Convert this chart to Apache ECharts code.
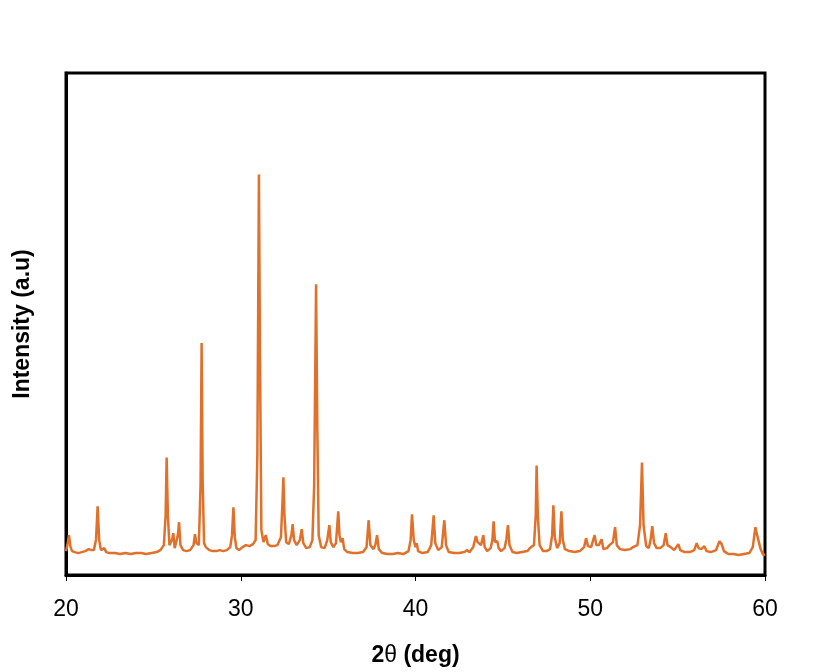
<!DOCTYPE html>
<html>
<head>
<meta charset="utf-8">
<script src="https://cdn.jsdelivr.net/npm/echarts@6/dist/echarts.min.js"></script>
<style>
  html, body { margin: 0; padding: 0; background: #fff; }
  #chart { width: 830px; height: 672px; }
</style>
</head>
<body>
<div id="chart"></div>
<script>
// 2theta positions (deg) and intensities (a.u.)
var twoTheta = [
  20.00, 20.08, 20.17, 20.26, 20.35, 20.5, 20.7, 20.9, 21.1, 21.3, 21.37, 21.45, 21.6, 21.72, 21.81, 21.9,
  22.0, 22.19, 22.3, 22.5, 22.8, 23.1, 23.4, 23.7, 24.0, 24.3, 24.6, 24.9, 25.2, 25.4, 25.6, 25.7,
  25.76, 25.83, 25.92, 26.0, 26.08, 26.14, 26.22, 26.3, 26.4, 26.47, 26.55, 26.7, 26.9, 27.1, 27.3, 27.38,
  27.46, 27.6, 27.7, 27.76, 27.82, 27.9, 28.0, 28.2, 28.4, 28.6, 28.8, 29.0, 29.2, 29.4, 29.5, 29.58,
  29.66, 29.75, 29.9, 30.1, 30.3, 30.5, 30.7, 30.85, 30.95, 31.04, 31.1, 31.18, 31.3, 31.43, 31.55, 31.7,
  31.9, 32.1, 32.3, 32.38, 32.44, 32.5, 32.6, 32.75, 32.9, 32.97, 33.05, 33.2, 33.38, 33.49, 33.58, 33.75,
  33.95, 34.1, 34.2, 34.31, 34.38, 34.46, 34.6, 34.8, 34.95, 35.07, 35.15, 35.3, 35.45, 35.58, 35.65, 35.73,
  35.83, 35.92, 36.1, 36.4, 36.7, 37.0, 37.2, 37.32, 37.42, 37.6, 37.7, 37.8, 37.9, 38.1, 38.4, 38.7,
  39.0, 39.3, 39.6, 39.72, 39.80, 39.9, 40.0, 40.07, 40.15, 40.4, 40.7, 40.9, 41.04, 41.13, 41.3, 41.5,
  41.65, 41.75, 41.9, 42.2, 42.5, 42.8, 42.93, 43.1, 43.3, 43.46, 43.55, 43.63, 43.75, 43.88, 43.96, 44.1,
  44.3, 44.4, 44.47, 44.55, 44.68, 44.76, 44.9, 45.1, 45.2, 45.29, 45.38, 45.55, 45.8, 46.1, 46.4, 46.55,
  46.65, 46.78, 46.88, 46.93, 47.0, 47.1, 47.3, 47.5, 47.7, 47.82, 47.89, 47.97, 48.1, 48.25, 48.35, 48.43,
  48.55, 48.8, 49.1, 49.4, 49.65, 49.76, 49.87, 50.05, 50.25, 50.35, 50.5, 50.65, 50.75, 50.95, 51.1, 51.17,
  51.3, 51.42, 51.52, 51.7, 52.0, 52.3, 52.45, 52.56, 52.7, 52.85, 52.96, 53.05, 53.2, 53.35, 53.45, 53.55,
  53.65, 53.8, 54.0, 54.2, 54.32, 54.42, 54.6, 54.8, 55.04, 55.15, 55.4, 55.7, 55.95, 56.09, 56.2, 56.35,
  56.53, 56.65, 56.9, 57.2, 57.39, 57.52, 57.65, 57.9, 58.2, 58.5, 58.8, 59.1, 59.3, 59.45, 59.55, 59.62,
  59.75, 59.9, 60.0
];
var intensity = [
  24, 30, 40, 28, 24, 23, 22, 23, 24, 26, 28, 25, 25, 36, 69, 35,
  25, 27, 23, 22, 22, 21, 22, 21, 22, 22, 21, 22, 23, 25, 30, 60,
  118, 60, 30, 28, 36, 42, 27, 28, 40, 53, 30, 25, 24, 25, 30, 41,
  32, 30, 90, 233, 95, 32, 28, 25, 24, 24, 25, 24, 25, 28, 40, 68,
  38, 27, 25, 28, 30, 29, 31, 35, 120, 402, 220, 45, 33, 40, 31, 29,
  29, 30, 38, 70, 98, 60, 33, 31, 40, 51, 35, 30, 35, 46, 32, 27,
  28, 35, 90, 292, 150, 40, 28, 27, 35, 50, 33, 28, 32, 64, 40, 33,
  37, 26, 23, 22, 22, 23, 28, 55, 30, 26, 30, 40, 26, 22, 21, 21,
  22, 21, 24, 35, 61, 35, 28, 32, 24, 22, 23, 30, 60, 32, 25, 28,
  55, 30, 23, 22, 22, 23, 25, 23, 28, 39, 33, 35, 30, 40, 28, 24,
  27, 35, 54, 33, 34, 27, 24, 27, 36, 50, 30, 23, 22, 23, 24, 27,
  29, 30, 60, 110, 60, 30, 24, 24, 26, 40, 70, 38, 27, 32, 64, 35,
  26, 24, 23, 24, 28, 37, 29, 28, 40, 30, 30, 36, 26, 27, 30, 31,
  33, 48, 30, 26, 25, 26, 28, 30, 30, 50, 113, 50, 29, 27, 35, 49,
  32, 27, 27, 30, 42, 30, 28, 25, 31, 25, 23, 23, 25, 32, 27, 26,
  29, 24, 23, 25, 34, 31, 24, 21, 21, 20, 21, 22, 28, 48, 40, 39,
  26, 20, 21
];
var xTicks = [20, 30, 40, 50, 60];

var points = twoTheta.map(function (t, i) { return [t, intensity[i]]; });

var chart = echarts.init(document.getElementById('chart'));
chart.setOption({
  animation: false,
  backgroundColor: '#fff',
  grid: {
    left: 66,
    right: 65,
    top: 73,
    bottom: 95,
    show: true,
    borderColor: '#000',
    borderWidth: 3
  },
  xAxis: {
    type: 'value',
    min: xTicks[0],
    max: xTicks[xTicks.length - 1],
    interval: 10,
    name: '{b|2}{t|θ}{b| (deg)}',
    nameLocation: 'middle',
    nameGap: 69,
    nameTextStyle: {
      rich: {
        b: { fontFamily: 'Liberation Sans', fontSize: 23, fontWeight: 'bold', color: '#000' },
        t: { fontFamily: 'Liberation Sans', fontSize: 23, color: '#000' }
      }
    },
    axisLine: { lineStyle: { color: '#000', width: 3 } },
    axisTick: { show: true, inside: false, length: 6, lineStyle: { color: '#000', width: 1 } },
    axisLabel: { fontFamily: 'Liberation Sans', fontSize: 23, color: '#000', margin: 23 },
    splitLine: { show: false }
  },
  yAxis: {
    type: 'value',
    min: 0,
    max: 504,
    name: 'Intensity (a.u)',
    nameLocation: 'middle',
    nameGap: 32,
    nameTextStyle: { fontFamily: 'Liberation Sans', fontSize: 23, fontWeight: 'bold', color: '#000' },
    axisLine: { show: true, lineStyle: { color: '#000', width: 3 } },
    axisTick: { show: false },
    axisLabel: { show: false },
    splitLine: { show: false }
  },
  series: [{
    type: 'line',
    data: points,
    showSymbol: false,
    lineStyle: { color: '#E0702A', width: 2.5 },
    z: 1
  }]
});
</script>
</body>
</html>
